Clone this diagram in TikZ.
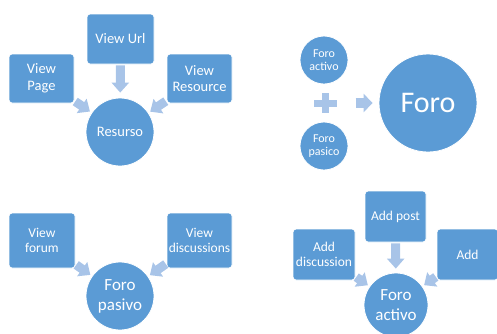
\documentclass[tikz,border=0pt]{standalone}
\usepackage{fontspec}
\setmainfont{Carlito}
\usetikzlibrary{arrows.meta}
\definecolor{boxblue}{RGB}{91,155,213}
\definecolor{arrblue}{RGB}{168,196,232}
\tikzset{
  sqbox/.style={draw=white, line width=0.8pt, fill=boxblue, rounded corners=3pt,
    text=white, align=center, inner sep=0pt},
  circ/.style={circle, draw=white, line width=0.8pt, fill=boxblue, text=white,
    align=center, inner sep=0pt},
  blockarrow/.style={draw=arrblue, line width=9pt, line cap=butt,
    -{Triangle[width=17pt,length=10pt]}},
  blockarrowsmall/.style={draw=arrblue, line width=9pt, line cap=butt,
    -{Triangle[width=18pt,length=9pt]}},
  ftop/.style={font=\fontsize{14.5}{16.5}\selectfont},
  fbot/.style={font=\fontsize{13.5}{15.5}\selectfont},
}
\begin{document}
\begin{tikzpicture}[x=1pt,y=-1pt]
\useasboundingbox (0,0) rectangle (497,333);
% top-left group
\node[sqbox, ftop, minimum width=65pt, minimum height=49pt] (vpage) at (41.5,78.5) {View\\Page};
\node[sqbox, ftop, minimum width=67pt, minimum height=50pt] (vurl) at (120.5,39) {View Url};
\node[sqbox, ftop, minimum width=65pt, minimum height=49pt] (vres) at (199.5,78.5) {View\\Resource};
\node[circ, ftop, minimum size=68pt] (resurso) at (120,132) {Resurso};
\draw[blockarrow, shorten <=1pt, shorten >=5pt] (vurl) -- (resurso);
\draw[blockarrow, shorten <=1pt, shorten >=2pt] (vpage) -- (resurso);
\draw[blockarrow, shorten <=1pt, shorten >=2pt] (vres) -- (resurso);
% top-right group
\node[circ, font=\fontsize{12}{13.5}\selectfont, minimum size=48pt] (factivo) at (324,60) {Foro\\activo};
\node[circ, font=\fontsize{12}{13.5}\selectfont, minimum size=48pt] (fpasico) at (324,146) {Foro\\pasico};
\node[inner sep=0pt, minimum width=23pt, minimum height=20pt] (plus) at (325,103) {};
\fill[arrblue] (plus.center) ++(-11.5,-3.5) rectangle ++(23,7);
\fill[arrblue] (plus.center) ++(-3.5,-10) rectangle ++(7,20);
\node[circ, font=\fontsize{30}{34}\selectfont, minimum size=98pt] (foro) at (428,103) {Foro};
\draw[draw=arrblue, line width=10pt, line cap=butt, -{Triangle[width=18pt,length=9pt]},
  shorten <=19pt, shorten >=6pt] (plus) -- (foro);
% bottom-left group
\node[sqbox, fbot, minimum width=66pt, minimum height=55pt] (vforum) at (42,240.5) {View\\forum};
\node[sqbox, fbot, minimum width=65pt, minimum height=55pt] (vdisc) at (199.5,240.5) {View\\discussions};
\node[circ, font=\fontsize{17}{20}\selectfont, minimum size=68pt] (fpasivo) at (120,296) {Foro\\pasivo};
\draw[blockarrow, shorten <=1pt, shorten >=2pt] (vforum) -- (fpasivo);
\draw[blockarrow, shorten <=1pt, shorten >=2pt] (vdisc) -- (fpasivo);
% bottom-right group
\node[sqbox, fbot, minimum width=62pt, minimum height=51pt] (adisc) at (324,254.5) {Add\\discussion};
\node[sqbox, fbot, minimum width=61pt, minimum height=51pt] (apost) at (395.5,216.5) {Add post};
\node[sqbox, fbot, minimum width=61pt, minimum height=51pt] (add) at (467.5,254.5) {Add};
\node[circ, font=\fontsize{17}{20}\selectfont, minimum size=64pt] (factivo2) at (396,305) {Foro\\activo};
\draw[blockarrow, shorten <=1pt, shorten >=4pt] (apost) -- (factivo2);
\draw[blockarrow, shorten <=1pt, shorten >=2pt] (adisc) -- (factivo2);
\draw[blockarrow, shorten <=1pt, shorten >=2pt] (add) -- (factivo2);
\end{tikzpicture}
\end{document}
